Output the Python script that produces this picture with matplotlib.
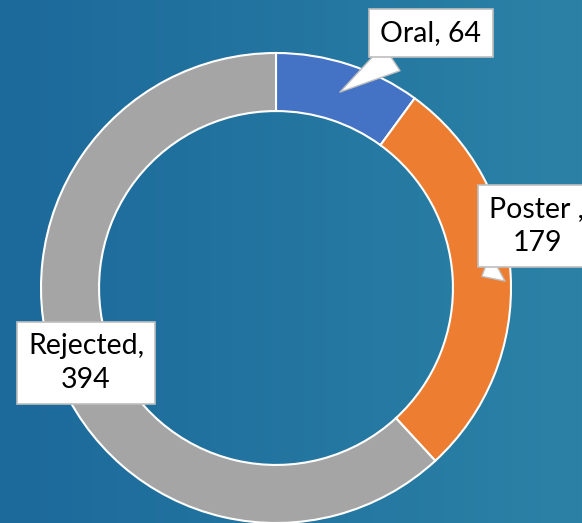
import numpy as np
import matplotlib
matplotlib.use('Agg')
from matplotlib import pyplot as plt
from matplotlib.colors import LinearSegmentedColormap

labels = ['Oral', 'Poster ', 'Rejected']
values = [64, 179, 394]
colors = ['#4472C4', '#ED7D31', '#A5A5A5']

W, H = 582, 523
fig = plt.figure(figsize=(W / 100, H / 100), dpi=100)

# background gradient
bg = fig.add_axes([0, 0, 1, 1])
cmap = LinearSegmentedColormap.from_list('bg', ['#1c699b', '#2b82a6'])
grad = np.linspace(0, 1, 256).reshape(1, -1)
bg.imshow(grad, aspect='auto', cmap=cmap, extent=[0, 1, 0, 1])
bg.axis('off')

ax = fig.add_axes([0, 0, 1, 1])
ax.patch.set_alpha(0)
cx, cy, r = 276, 235, 235
wedges, _ = ax.pie(values, colors=colors, startangle=90, counterclock=False,
                   center=(cx, cy), radius=r,
                   wedgeprops=dict(width=r * 0.247, edgecolor='white', linewidth=1.5))
ax.set_xlim(0, W)
ax.set_ylim(0, H)
ax.set_aspect('equal')
ax.axis('off')

font = ['Lato', 'DejaVu Sans']
box = dict(boxstyle='square,pad=0.4', fc='white', ec='#bfbfbf', lw=1.2)

# label positions (text centre) and arrow base on the box
text_pos = [(431, 490), (537, 297), (86, 160)]
relpos = [(0.29, 0.0), (0.32, 0.0), (0.5, 0.5)]
texts = ['{}, {}'.format(labels[0], values[0]),
         '{},\n{}'.format(labels[1], values[1]),
         '{},\n{}'.format(labels[2], values[2])]

for w, t, pos, rp in zip(wedges, texts, text_pos, relpos):
    mid = np.deg2rad((w.theta1 + w.theta2) / 2)
    rr = r * 0.877
    tip = (cx + rr * np.cos(mid), cy + rr * np.sin(mid))
    ax.annotate(t, xy=tip, xytext=pos, ha='center', va='center',
                fontsize=20.5, family=font, color='black', linespacing=1.35,
                bbox=box,
                arrowprops=dict(arrowstyle='wedge,tail_width=1.1', fc='white',
                                ec='#bfbfbf', lw=1.0, shrinkA=0, shrinkB=0,
                                relpos=rp, mutation_scale=20))

fig.savefig('out.png', dpi=100)
